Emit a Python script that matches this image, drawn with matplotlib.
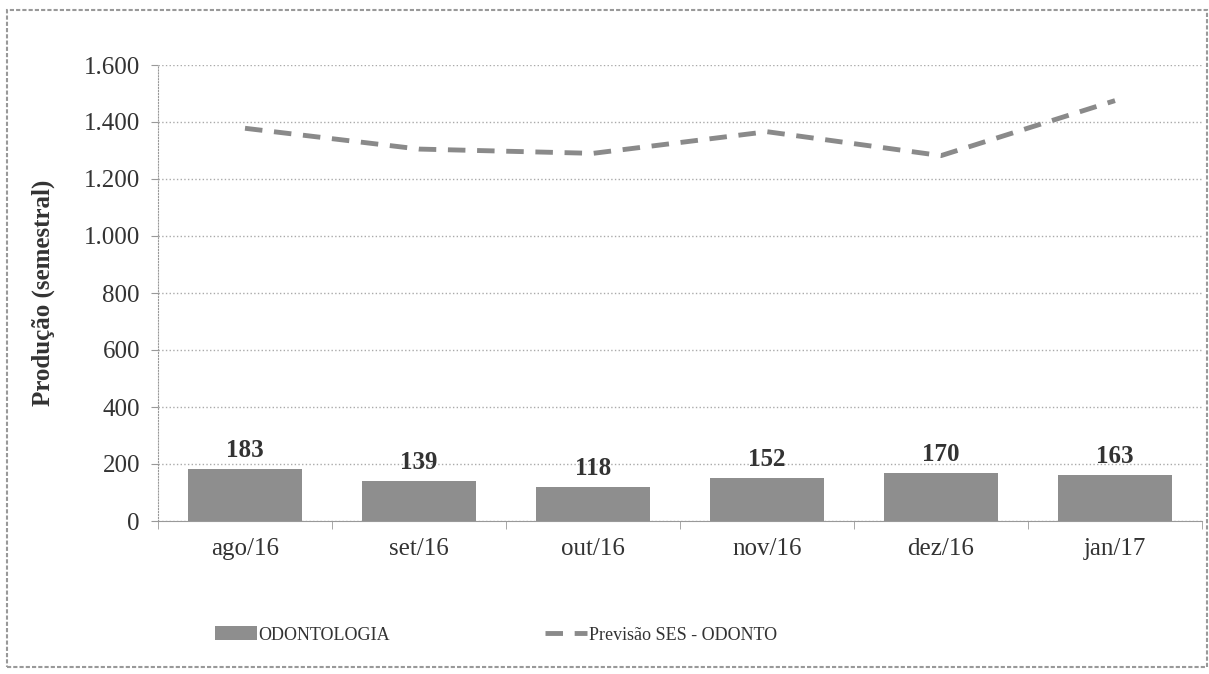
import numpy as np
import matplotlib
matplotlib.use("Agg")
import matplotlib.pyplot as plt
from matplotlib.patches import Rectangle

plt.rcParams['font.family'] = 'Liberation Serif'

meses = ['ago/16', 'set/16', 'out/16', 'nov/16', 'dez/16', 'jan/17']
odontologia = [183, 139, 118, 152, 170, 163]
previsao = [1378, 1305, 1290, 1366, 1282, 1475]
yticks = [0, 200, 400, 600, 800, 1000, 1200, 1400, 1600]
ytick_labels = ['0', '200', '400', '600', '800', '1.000', '1.200', '1.400', '1.600']

fig = plt.figure(figsize=(12.09, 6.74), dpi=100)
ax = fig.add_axes([158 / 1209, 1 - 521 / 674, (1202 - 158) / 1209, (521 - 65) / 674])

x = np.arange(len(meses))
ax.bar(x, odontologia, width=0.66, color='#8e8e8e', label='ODONTOLOGIA', zorder=3)
ax.plot(x, previsao, color='#8a8a8a', lw=3.5, dashes=(3.6, 2.4),
        label='Previsão SES - ODONTO', zorder=4)

for xi, v in zip(x, odontologia):
    ax.annotate(str(v), (xi, v), xytext=(0, 5), textcoords='offset points',
                ha='center', va='bottom', fontsize=18, fontweight='bold', color='#333333')

ax.set_xlim(-0.5, len(meses) - 0.5)
ax.set_ylim(0, 1600)
ax.set_yticks(yticks)
ax.set_yticklabels(ytick_labels, fontsize=18, color='#333333')
ax.set_xticks(x)
ax.set_xticklabels(meses, fontsize=18, color='#333333')
ax.set_xticks(np.arange(-0.5, len(meses)), minor=True)
ax.tick_params(axis='x', which='major', length=0, pad=12)
ax.tick_params(axis='x', which='minor', length=6, color='#999999', direction='out')
ax.tick_params(axis='y', length=5, color='#999999', pad=8)

ax.grid(axis='y', color='#aaaaaa', ls=':', lw=1, zorder=0)
for s in ['top', 'right']:
    ax.spines[s].set_visible(False)
ax.spines['left'].set_color('#999999')
ax.spines['left'].set_linestyle(':')
ax.spines['bottom'].set_color('#999999')
ax.spines['bottom'].set_zorder(5)

ax.set_ylabel('Produção (semestral)', fontsize=18, fontweight='bold', color='#333333')
ax.yaxis.set_label_coords((55 - 158) / 1044, 0.5)

handles, labels = ax.get_legend_handles_labels()
order = [labels.index('ODONTOLOGIA'), labels.index('Previsão SES - ODONTO')]
leg = ax.legend([handles[i] for i in order], [labels[i] for i in order],
                loc='center left', bbox_to_anchor=(215 / 1209, 1 - 635 / 674),
                bbox_transform=fig.transFigure, ncol=2, frameon=False, fontsize=13,
                handlelength=2.3, handleheight=0.8, handletextpad=0.1, columnspacing=8.6,
                borderpad=0, borderaxespad=0)
for t in leg.get_texts():
    t.set_color('#333333')

fig.patches.append(Rectangle((7 / 1209, 1 - 667 / 674), (1207 - 7) / 1209, (667 - 10) / 674,
                             transform=fig.transFigure, fill=False, edgecolor='#999999',
                             lw=1.5, ls=(0, (2, 1))))

fig.savefig('out.png', dpi=100)
